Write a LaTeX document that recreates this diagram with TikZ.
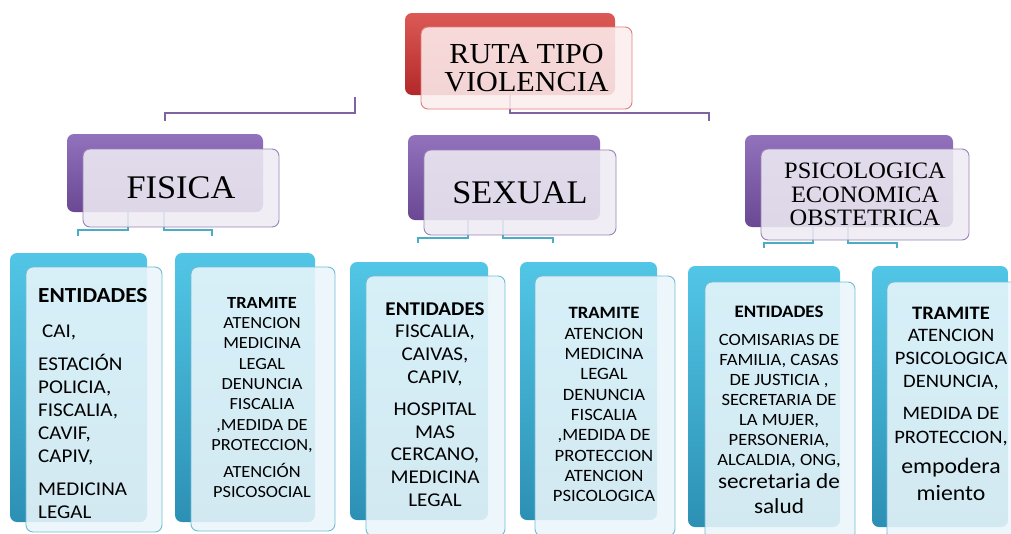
\documentclass[tikz,border=0pt]{standalone}
\usepackage{fontspec}
\setmainfont[FakeStretch=1.08]{Carlito}
\newfontfamily\ttlfont[FakeStretch=1.04]{Liberation Serif}
\definecolor{redtop}{HTML}{DC5A55}
\definecolor{redbot}{HTML}{B3282A}
\definecolor{redfill}{HTML}{FCEDED}
\definecolor{redline}{HTML}{E07D7B}
\definecolor{purtop}{HTML}{9272BC}
\definecolor{purbot}{HTML}{6A4894}
\definecolor{purfill}{HTML}{EEEBF3}
\definecolor{purline}{HTML}{8064A2}
\definecolor{teatop}{HTML}{52C6E6}
\definecolor{teabot}{HTML}{2C90B4}
\definecolor{teafill}{HTML}{EAF6FB}
\definecolor{tealine}{HTML}{4BACC6}
\tikzset{
  backbox/.style={rounded corners=7pt, inner sep=0pt},
  frontbox/.style={rounded corners=7pt, inner sep=0pt, fill opacity=0.88, text opacity=1, align=center},
  redback/.style={backbox, top color=redtop, bottom color=redbot},
  redfront/.style={frontbox, draw=redline, fill=redfill, line width=0.9pt},
  purback/.style={backbox, top color=purtop, bottom color=purbot},
  purfront/.style={frontbox, draw=purline!80, fill=purfill, line width=0.9pt},
  teaback/.style={backbox, top color=teatop, bottom color=teabot},
  teafront/.style={frontbox, draw=tealine!80, fill=teafill, line width=0.9pt},
  purconn/.style={draw=purline, line width=1.8pt},
  teaconn/.style={draw=tealine, line width=1.8pt},
  boxtext/.style={inner sep=0pt, anchor=north, align=center}
}
\begin{document}
\begin{tikzpicture}[x=1pt,y=-1pt]
\useasboundingbox (0,0) rectangle (1011,533);
\clip (0,0) rectangle (1011,533);

\node[redback, minimum width=210pt, minimum height=82pt] (rutaback) at (510,54) {};
\coordinate (topl) at (355,97);
\coordinate (footl) at (165,121);
\coordinate (footr) at (709,121);
\draw[purconn] (topl) -- ++(0,16) -| (footl);
\draw[purconn] (rutaback.south) -- ++(0,18) -| (footr);
\node[redfront, minimum width=211pt, minimum height=82pt, font=\ttlfont\fontsize{29}{28.5}\selectfont] (ruta) at (526.5,68) {RUTA TIPO\\VIOLENCIA};

\node[purback, minimum width=196pt, minimum height=78pt] (fisicaback) at (165,173) {};
\node[purback, minimum width=192pt, minimum height=85pt] (sexualback) at (504,177.5) {};
\node[purback, minimum width=208pt, minimum height=92pt] (psicoback) at (849,181) {};

\coordinate (ff1) at (78,236);
\coordinate (ff2) at (212,236);
\coordinate (sf1) at (418,243);
\coordinate (sf2) at (553,243);
\coordinate (pf1) at (764,248);
\coordinate (pf2) at (897,248);
\draw[teaconn] ([xshift=-37pt]fisicaback.south) -- ++(0,18) -| (ff1);
\draw[teaconn] ([xshift=-1pt]fisicaback.south) -- ++(0,18) -| (ff2);
\draw[teaconn] ([xshift=-36pt]sexualback.south) -- ++(0,18) -| (sf1);
\draw[teaconn] ([xshift=-1pt]sexualback.south) -- ++(0,18) -| (sf2);
\draw[teaconn] ([xshift=-36pt]psicoback.south) -- ++(0,16) -| (pf1);
\draw[teaconn] ([xshift=-1pt]psicoback.south) -- ++(0,16) -| (pf2);

\node[purfront, minimum width=196pt, minimum height=78pt, font=\ttlfont\fontsize{33}{36}\selectfont] (fisica) at (181,188) {FISICA};
\node[purfront, minimum width=192pt, minimum height=85pt, font=\ttlfont\fontsize{33}{36}\selectfont] (sexual) at (520,192.5) {SEXUAL};
\node[purfront, minimum width=208pt, minimum height=91pt, font=\ttlfont\fontsize{23.5}{23.3}\selectfont] (psico) at (865,194.5) {PSICOLOGICA\\ECONOMICA\\OBSTETRICA};

\node[teaback, minimum width=137pt, minimum height=269pt] (entfback) at (78.5,387.5) {};
\node[teafront, minimum width=136pt, minimum height=265pt] (entf) at (94,399.5) {};
\node[teaback, minimum width=140pt, minimum height=269pt] (trafback) at (245,387.5) {};
\node[teafront, minimum width=144pt, minimum height=264pt] (traf) at (263,399) {};
\node[teaback, minimum width=138pt, minimum height=258pt] (entsback) at (419,391) {};
\node[teafront, minimum width=139pt, minimum height=260pt] (ents) at (435.5,406) {};
\node[teaback, minimum width=137pt, minimum height=258pt] (trasback) at (588.5,391) {};
\node[teafront, minimum width=140pt, minimum height=260pt] (tras) at (605,406) {};
\node[teaback, minimum width=152pt, minimum height=261pt] (entpback) at (764,396.5) {};
\node[teafront, minimum width=150pt, minimum height=258pt] (entp) at (780,411) {};
\node[teaback, minimum width=136pt, minimum height=261pt] (trapback) at (940,396.5) {};
\node[teafront, minimum width=138pt, minimum height=258pt] (trap) at (956,411) {};

\node[boxtext, anchor=north west, align=left, font=\fontsize{19.5}{23}\selectfont] (entftxt) at (38,288)
  {{\bfseries\fontsize{21.5}{23}\selectfont ENTIDADES}\\[12pt]
   \hspace{4pt}CAI,\\[10pt]
   ESTACIÓN\\POLICIA,\\FISCALIA,\\CAVIF,\\CAPIV,\\[10pt]
   MEDICINA\\LEGAL};
\node[boxtext, font=\fontsize{17}{20.3}\selectfont] (traftxt) at (262,297)
  {\textbf{TRAMITE}\\ATENCION\\MEDICINA\\LEGAL\\DENUNCIA\\FISCALIA\\,MEDIDA DE\\PROTECCION,\\[7pt]
   ATENCIÓN\\PSICOSOCIAL};
\node[boxtext, font=\fontsize{19.5}{22.7}\selectfont] (entstxt) at (435,303)
  {\textbf{ENTIDADES}\\[-1pt]FISCALIA,\\CAIVAS,\\CAPIV,\\[9.6pt]
   HOSPITAL\\MAS\\CERCANO,\\MEDICINA\\LEGAL};
\node[boxtext, font=\fontsize{17.3}{20.3}\selectfont] (trastxt) at (604,307.5)
  {\textbf{TRAMITE}\\ATENCION\\MEDICINA\\LEGAL\\DENUNCIA\\FISCALIA\\,MEDIDA DE\\PROTECCION\\ATENCION\\PSICOLOGICA};
\node[boxtext, font=\fontsize{17.2}{20.1}\selectfont] (entptxt) at (779,305.5)
  {{\bfseries\fontsize{17.5}{20}\selectfont ENTIDADES}\\[8pt]COMISARIAS DE\\FAMILIA, CASAS\\DE JUSTICIA ,\\SECRETARIA DE\\LA MUJER,\\PERSONERIA,\\ALCALDIA, ONG,\\[2.4pt]
   {\fontsize{21.5}{24}\selectfont secretaria de}\\[4.6pt]
   {\fontsize{21.5}{24}\selectfont salud}};
\node[boxtext, font=\fontsize{19}{22.7}\selectfont] (traptxt) at (951,306.7)
  {\textbf{TRAMITE}\\ATENCION\\PSICOLOGICA\\DENUNCIA,\\[9.3pt]
   MEDIDA DE\\[1pt]PROTECCION,\\[7.3pt]
   {\fontsize{22}{26}\selectfont empodera}\\[4.3pt]
   {\fontsize{22}{26}\selectfont miento}};
\end{tikzpicture}
\end{document}
